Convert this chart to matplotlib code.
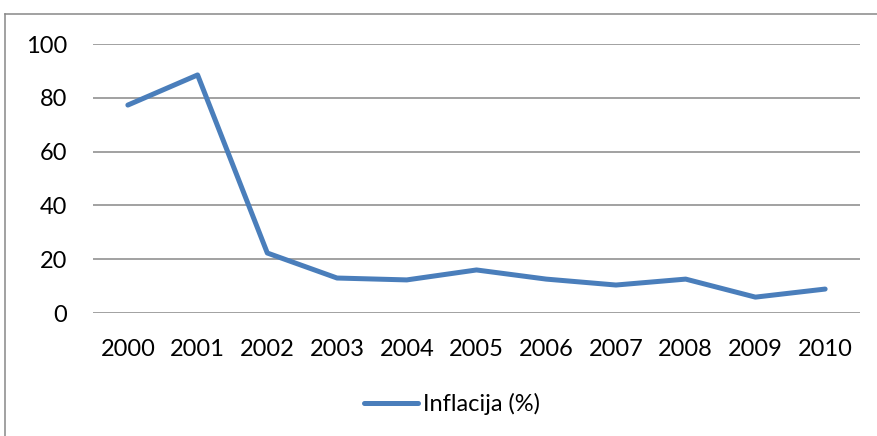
import matplotlib
matplotlib.use("Agg")
import matplotlib.pyplot as plt
from matplotlib.lines import Line2D

# Data
years = ["2000", "2001", "2002", "2003", "2004", "2005",
         "2006", "2007", "2008", "2009", "2010"]
inflation = [77.3, 88.5, 22.3, 13.0, 12.3, 16.0, 12.6, 10.4, 12.6, 5.9, 8.9]
y_ticks = [0, 20, 40, 60, 80, 100]

W, H = 878, 436
plt.rcParams['font.family'] = ['Lato', 'DejaVu Sans']

fig = plt.figure(figsize=(W / 100, H / 100), dpi=100)
ax = fig.add_axes([93 / W, 1 - 313 / H, 767 / W, 269 / H])

x = range(len(years))
line, = ax.plot(x, inflation, color='#4A7EBB', lw=3.6,
                solid_capstyle='round', solid_joinstyle='round',
                label='Inflacija (%)', zorder=3)

ax.set_xlim(-0.5, len(years) - 0.5)
ax.set_ylim(0, 100)
ax.set_yticks(y_ticks)
ax.set_xticks(list(x))
ax.set_xticklabels(years)
ax.tick_params(axis='both', length=0, labelsize=17, colors='black')
ax.tick_params(axis='y', pad=18.5)
ax.tick_params(axis='x', pad=18.5)
for y in y_ticks:
    ax.axhline(y, color='#888888', lw=1.1, zorder=1)
for s in ax.spines.values():
    s.set_visible(False)

# outer chart frame (left and top edges visible)
fig.add_artist(Line2D([5.5 / W, 5.5 / W], [0, 1 - 14 / H],
                      transform=fig.transFigure, color='#888888', lw=1.1))
fig.add_artist(Line2D([5.5 / W, 1], [1 - 14 / H, 1 - 14 / H],
                      transform=fig.transFigure, color='#888888', lw=1.1))

fig.legend(handles=[line], loc='center', bbox_to_anchor=(452 / W, 1 - 404 / H),
           frameon=False, fontsize=17, handlelength=2.3, handletextpad=0.2)

fig.savefig('out.png', dpi=100)
